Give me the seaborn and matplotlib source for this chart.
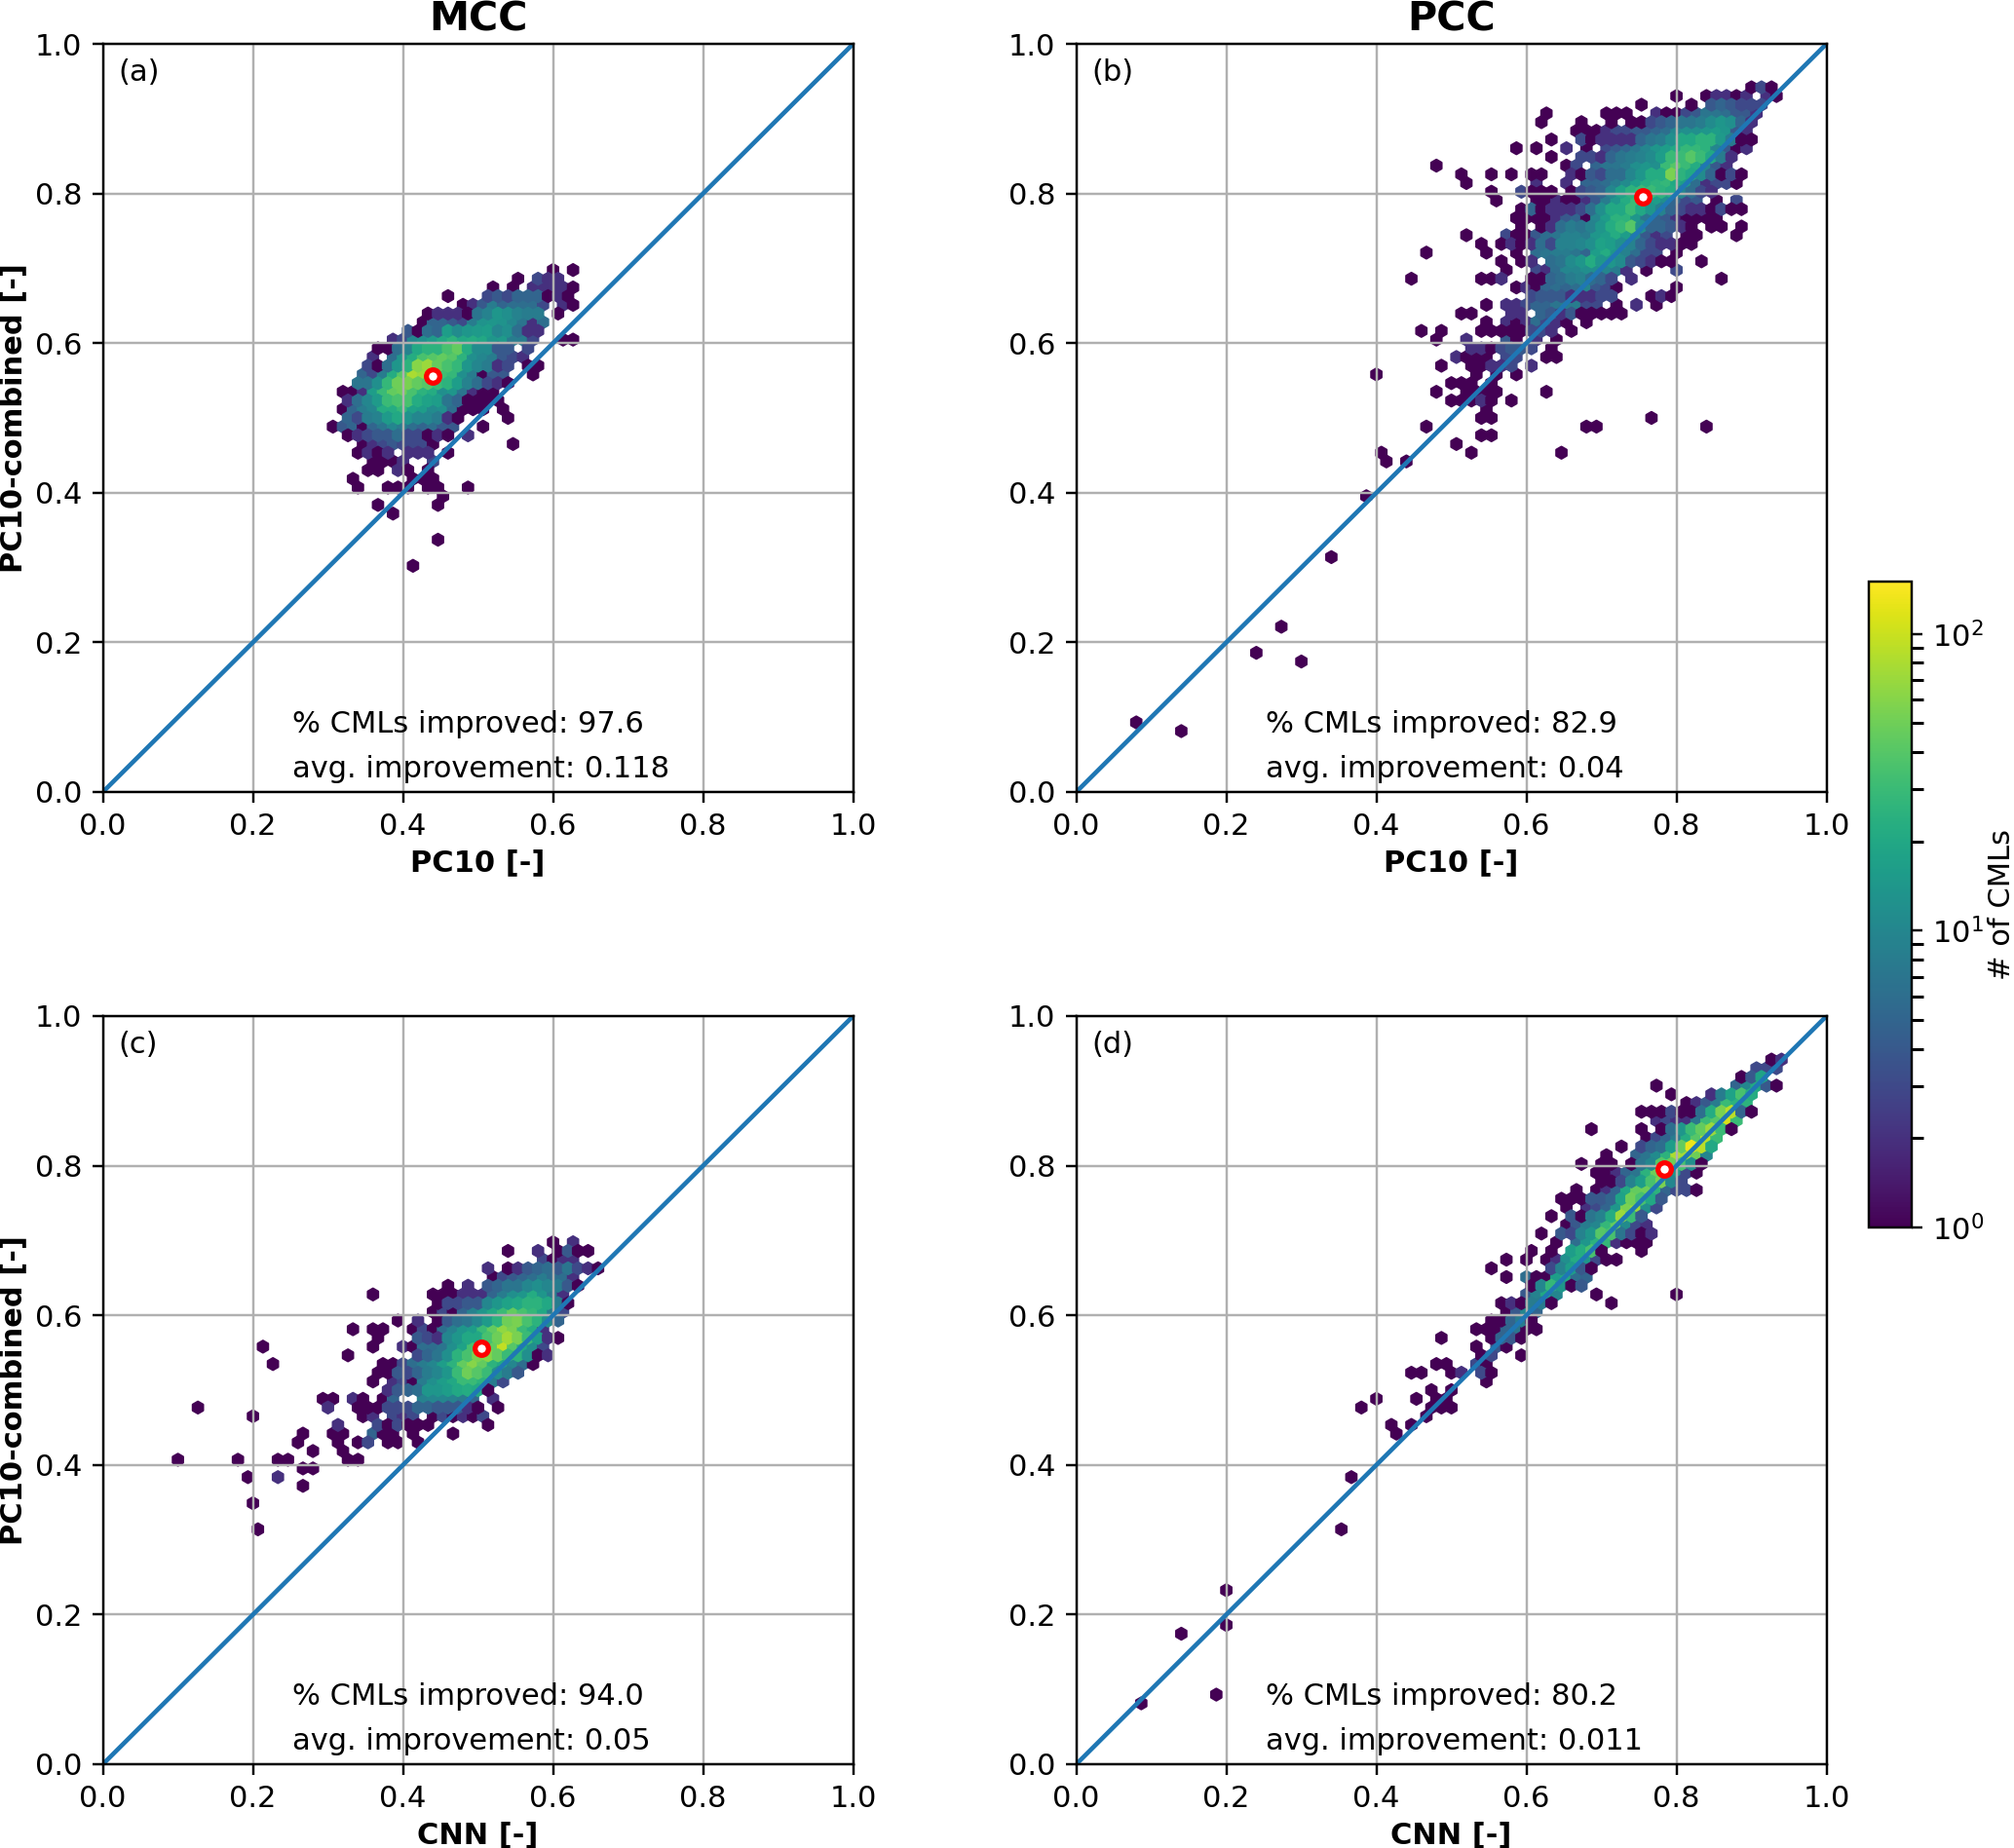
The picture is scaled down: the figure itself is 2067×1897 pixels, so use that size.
import numpy as np
import matplotlib
matplotlib.use('Agg')
import matplotlib.pyplot as plt
from matplotlib.colors import LogNorm
import seaborn as sns

# hexagon cells: (row, first column, counts), 0 = empty cell
cells_a = [
    (60,45,[1,0,1]), (59,41,[1,0,3,2,2]), (58,39,[1,0,1,0,2,2,2,2,1]),
    (57,34,[1]), (57,38,[3,4,3,5,5,5,1,2,1]), (56,36,[1,2,4,8,5,6,6,6,3,0,2,1]),
    (55,32,[1,2,2,2,1,7,9,14,12,9,8,8,0,1]), (54,32,[1,5,5,4,3,8,13,14,13,10,7,2,6]),
    (53,30,[4,1,6,5,16,11,14,15,16,10,12,6,2,2]),
    (52,29,[2,3,10,12,15,20,25,20,22,20,14,15,8,8,3]), (52,46,[1,1]),
    (51,27,[1,1,6,9,20,25,25,35,45,22,11,11,4,4,0,3]),
    (50,27,[2,0,6,14,22,35,40,45,40,25,12,10,8,4,3,2]),
    (49,26,[3,1,6,14,25,60,70,45,35,28,14,10,8,2,3,0,1,1]),
    (48,26,[5,3,8,22,40,80,70,50,32,28,12,8,1,4,4,0,0,1]),
    (47,25,[7,7,12,28,50,55,45,40,30,25,16,9,6,3,2,1]),
    (46,24,[1,1,2,16,30,45,50,35,25,22,12,14,7,2,1,1]),
    (45,24,[2,6,10,15,30,35,35,22,18,16,7,5,1,1,1,1]),
    (44,24,[1,5,8,10,22,22,28,18,16,11,12,6,1,1,1,0,1]),
    (43,24,[5,3,8,9,15,20,13,10,10,8,2,1]), (43,40,[1]),
    (42,23,[1,4,5,1,5,7,10,8,6,5,6,4,4]), (42,38,[1]),
    (41,24,[1,2,3,4,4,6,3,3,1,2,1,0,2]), (40,26,[1,2,3,4,3,3,3,1]), (40,41,[1]),
    (39,25,[1,2,1,2,0,2,2,2,0,1]), (38,27,[1,1,1,2,0,0,3]), (37,26,[1,1,0,2,1,0,1]),
    (36,25,[1]), (36,31,[1,1,1]), (35,25,[1]), (35,28,[1,1,1,0,1,1]), (35,36,[1]),
    (34,34,[1]), (33,27,[1]), (33,33,[1]), (32,29,[1]), (29,33,[1]), (26,31,[1]),
]

cells_b = [
    (81,67,[1,3,1]), (80,60,[1]), (80,63,[1,2,2,1,2,0,2,1]), (79,56,[1]), (79,61,[1]),
    (79,63,[4,5,4,3,3,3]), (78,47,[1]), (78,53,[1,1,1]), (78,58,[2,1,1,3,4,7,7,6,4,4,2]),
    (77,46,[1]), (77,50,[1]), (77,53,[1,0,1,1,3,4,5,7,7,8,11,14,12,5,2]),
    (76,50,[1,1,1,2,3,3,4,4,5,6,10,12,12,14,16,14,4,2]),
    (75,47,[1]), (75,50,[3,1,2,2,2,2,5,7,8,12,20,20,25,25,15,8,1,1]),
    (74,44,[1,0,1]), (74,49,[2,0,1,0,3,4,5,7,10,14,16,20,28,28,25,10,4,1,2]),
    (73,47,[1]), (73,50,[3,3,2,5,7,8,9,11,16,30,30,40,30,20,8,2]),
    (72,36,[1]), (72,49,[1,3,0,5,7,7,8,12,14,12,30,40,30,22,10,4,2]),
    (71,38,[1]), (71,41,[1,0,1,0,1,1]), (71,49,[2,1,4,3,6,6,10,14,22,22,55,25,20,11,5,1,3,1]),
    (70,39,[1]), (70,46,[2,0,0,2,0,5,5,6,8,11,16,22,25,28,20,16,6,2,3,3,1]),
    (69,41,[1]), (69,44,[3,1,1,1,0,1,3,4,5,10,18,25,30,30,25,22,10,6,3,2]),
    (68,42,[1]), (68,46,[1,1,2,1,1,2,4,8,14,22,30,22,16,12,5,3,4,0,1,0,3]),
    (67,44,[1,5,1,2,2,2,3,6,12,20,20,30,20,14,9,5,3,2,2,1,3,1,1]),
    (66,44,[1,1,1,1,2,4,5,1,10,16,25,25,14,7,5,4,2,1,1,1,1]),
    (65,44,[1,0,1,2,6,8,7,9,14,22,28,40,12,5,5,4,2,1,0,1,1,0,1]),
    (64,39,[1]), (64,43,[3,1,1,4,6,7,9,9,8,14,16,22,16,10,4,2,3,0,1,1]), (64,66,[1]),
    (63,40,[1]), (63,42,[1,2,1,2,6,3,9,9,10,12,18,16,12,9,5,3,2,2,1,1]),
    (62,35,[1]), (62,41,[1]), (62,44,[1,0,6,7,8,8,7,5,16,22,14,9,6,3,3,0,1]),
    (61,42,[1,0,1,2,0,6,7,11,14,22,14,14,11,4,3,2,1,1]), (61,62,[1]),
    (60,43,[1,0,0,3,2,6,10,10,12,12,10,8,2,0,1]), (60,60,[3]),
    (59,33,[1]), (59,40,[1,1,2,0,0,1,1,5,6,8,9,6,5,3,0,2]), (59,64,[1]),
    (58,44,[1,2,1,5,6,5,6,10,4,3,1]), (58,60,[1]),
    (57,45,[3,4,4,4,2,2,2,3,3]), (57,57,[1,2,1]),
    (56,41,[1,0,2,2,3,5,5,7,8,8,3,3,0,1]), (56,56,[2,0,1]),
    (55,38,[1,1]), (55,43,[2,2,0,5,4,2,4,1,1,1,1,1]),
    (54,41,[1,0,2,1,2,6,3,2,1,0,1]),
    (53,34,[1,0,1]), (53,40,[1,1,1,1,1,3,3,2,0,1]),
    (52,36,[1,0,0,2]), (52,43,[4,1,0,2,0,1]),
    (51,39,[2,2,1,3,4,4,3,0,1]), (50,38,[2,1,1,1,0,3,3]), (50,47,[1,1]),
    (49,36,[1]), (49,39,[1,1,2,2,3,0,2]), (48,30,[1]), (48,40,[1,0,1,0,1]),
    (47,37,[1,1,1,0,1]), (46,36,[1]), (46,39,[1,1,1,1]), (46,47,[1]),
    (45,37,[1,1,1,2,1,0,1]), (44,41,[1]), (43,40,[1,1]), (43,57,[1]),
    (42,35,[1]), (42,51,[1,1]), (42,63,[1]), (41,40,[1,1]), (40,38,[1]),
    (39,30,[1]), (39,39,[1]), (39,48,[1]), (38,31,[1,0,1]), (34,29,[1]),
    (27,25,[1]), (19,20,[1]), (16,18,[1]), (15,22,[1]), (8,6,[1]), (7,10,[1]),
]

cells_c = [
    (60,45,[1,0,2]), (59,40,[1]), (59,43,[2,0,1,4,1,1]), (58,44,[3,1,2,2]),
    (57,38,[2,0,1,2,4,5,6,4,7,3,2,1]), (56,39,[1,3,4,5,6,8,6,6,2]),
    (55,34,[1,0,2,0,4,5,7,7,10,12,10,8,4,1]),
    (54,27,[1]), (54,33,[1,1,1,2,2,2,5,8,12,14,22,14,8,2]),
    (53,33,[1,3,3,4,4,10,14,18,20,25,25,20,8,1]),
    (52,33,[1,3,1,5,9,14,20,30,45,35,28,20,8,3]),
    (51,29,[1,0,2,0,1,4,6,7,10,15,25,50,55,35,25,12,5]),
    (50,25,[1,0,1,1,0,0,1,3,1,6,9,14,16,30,45,65,55,30,22,2]),
    (49,27,[1,0,0,0,4,3,2,10,14,20,20,35,50,75,55,30,16,2,1]),
    (48,16,[1]), (48,27,[1,0,0,2,1,6,6,7,12,18,35,40,45,95,40,20,12,3]),
    (47,24,[1]), (47,31,[3,5,7,12,25,35,55,60,45,30,25,12,1,2]),
    (46,17,[1]), (46,28,[1,1,3,6,8,10,16,25,45,60,45,25,20,10,6,1]),
    (45,27,[1,1,4,3,5,8,10,14,30,50,40,30,12,8,4]),
    (44,27,[1,0,2,3,1,8,12,16,20,30,30,25,8,3]),
    (43,28,[2,4,5,6,14,14,16,20,22,20,1]),
    (42,22,[1,1,0,2,1,0,1,5,0,0,9,10,10,9,8,5,0,2]),
    (41,9,[1]), (41,22,[2,0,0,1,1,1,3,3,3,5,5,4,4,4,2,1,0,1]),
    (40,15,[1]), (40,26,[1,2,0,3,2,3,0,1,3,1,2,1,3]),
    (39,23,[2]), (39,27,[3,1,3,1,1,1]), (39,38,[1]),
    (38,20,[1]), (38,23,[1,1,0,0,5,1,1,0,1]), (38,35,[1]),
    (37,19,[1]), (37,23,[1,0,1,3,0,1,1,0,1]), (36,21,[1]), (36,24,[1]),
    (35,7,[1]), (35,13,[1]), (35,17,[1,1]), (35,24,[1,1]), (34,20,[1,1]),
    (33,14,[1]), (33,17,[2]), (32,20,[1]), (30,15,[1]), (27,15,[1]),
]

cells_d = [
    (81,69,[1,2]), (80,68,[3,3,3]), (79,66,[1,4,18]), (78,58,[1]), (78,66,[5,10,20,4,1]),
    (77,59,[1]), (77,63,[2,8,18,35,22]), (76,61,[1,2,4,8,30,25,25]),
    (75,56,[1,1,1,3,1,1,6,22,55,90,5,1]), (74,58,[2,3,2,2,7,30,40,110,30]),
    (73,51,[1]), (73,56,[1,0,1,6,14,30,45,70,30,1]), (72,57,[1,3,5,8,22,40,90,30]),
    (71,54,[1,0,3,5,6,16,45,130,90,20]), (70,53,[1]), (70,56,[5,7,11,25,80,75,50,10]),
    (69,50,[1,0,1,1,0,1,7,10,40,50,35,12,1]), (68,52,[1,1,2,5,7,25,50,65,14,3,1]),
    (67,52,[1,1,3,9,16,35,55,10,3]), (66,50,[1,0,1,2,5,20,45,50,25,5,3,3,1]),
    (65,48,[1,1,1,4,4,5,18,50,35,20,4]), (64,49,[1,0,2,3,5,14,55,70,12,3]),
    (63,47,[1,0,4,1,7,9,22,70,30,4]), (62,49,[1,4,8,10,28,45,11,3,2]),
    (61,46,[1,0,4,3,9,14,40,35,7,3,1,2]), (60,48,[1,0,6,14,25,28,2,1,1,1]),
    (59,45,[1,0,1,0,16,22,35,1]), (59,56,[1]), (58,43,[1,0,1,0,1,2,12,22,14,3,1,1]),
    (57,41,[1]), (57,47,[3,9,16,4,1]), (56,43,[1,0,6,1,1,16,20,6,5]),
    (55,45,[1,10,28,14,1,4]), (54,45,[4,9,20,10]), (54,52,[1]), (54,60,[1]),
    (53,42,[1,2,1,8,8,1]), (53,53,[1]), (52,43,[1,4,10,5]), (51,41,[1,1,5,8,1]),
    (50,40,[1,1,1,5,7,1,1]), (49,36,[1]), (49,41,[1,5,4,1]), (48,40,[1,0,4,1]),
    (47,40,[1,3,0,0,1]), (46,36,[1,1]), (46,40,[3,1]), (45,33,[1,1]), (45,37,[1,2,0,3,1]),
    (44,41,[1]), (43,35,[1,0,1]), (42,30,[1]), (42,34,[1,0,1,1]), (41,28,[1]), (41,35,[1,1,1]),
    (40,35,[1]), (39,31,[1]), (39,33,[1]), (38,32,[1]), (33,27,[1]), (27,26,[1]),
    (20,15,[1]), (16,15,[1]), (15,10,[1]), (8,14,[1]), (7,6,[1]),
]

panel_cells = [cells_a, cells_b, cells_c, cells_d]
panel_tags = ['(a)', '(b)', '(c)', '(d)']
col_titles = ['MCC', 'PCC']
x_labels = ['PC10 [-]', 'PC10 [-]', 'CNN [-]', 'CNN [-]']
y_label = 'PC10-combined [-]'
mean_x = [0.44, 0.755, 0.505, 0.783]
mean_y = [0.556, 0.795, 0.556, 0.795]
pct_improved = ['97.6', '82.9', '94.0', '80.2']
avg_improved = ['0.118', '0.04', '0.05', '0.011']

GRIDSIZE = 75
CW = 1.0 / GRIDSIZE
RH = 0.5 / int(GRIDSIZE / np.sqrt(3))


def cells_to_xyc(cells):
    # turn the (row, col, counts) runs into bin centres and counts
    xs, ys, cs = [], [], []
    for row, col, counts in cells:
        for k, n in enumerate(counts):
            if n > 0:
                xs.append((col + k + 0.5 * (row % 2)) * CW)
                ys.append(row * RH)
                cs.append(n)
    return xs, ys, cs


sns.set_theme(style='ticks', rc={
    'axes.edgecolor': 'black', 'axes.labelcolor': 'black', 'text.color': 'black',
    'xtick.color': 'black', 'ytick.color': 'black', 'axes.grid': True,
    'grid.color': '#b0b0b0', 'grid.linewidth': 0.8, 'axes.axisbelow': 'line',
    'font.family': 'DejaVu Sans', 'axes.linewidth': 0.8,
    'xtick.major.width': 0.8, 'ytick.major.width': 0.8,
    'xtick.major.size': 3.5, 'ytick.major.size': 3.5,
})

W, H = 2067, 1897
DPI = 220
fig, axes = plt.subplots(2, 2, figsize=(W / DPI, H / DPI), dpi=DPI)
lefts = [105.6, 1104.6]
bottoms = [813, 1811]
FS = 10

norm = LogNorm(vmin=1, vmax=150)
for i, ax in enumerate(axes.flat):
    ax.set_position([lefts[i % 2] / W, 1 - bottoms[i // 2] / H, 770 / W, 768 / H])
    xs, ys, cs = cells_to_xyc(panel_cells[i])
    hb = ax.hexbin(xs, ys, C=cs, reduce_C_function=np.sum, gridsize=GRIDSIZE,
                   extent=(0, 1, 0, 1), cmap='viridis', norm=norm,
                   linewidths=0.8, edgecolors='face')
    sns.lineplot(x=[0, 1], y=[0, 1], color='#1f77b4', lw=1.5, ax=ax)
    sns.scatterplot(x=[mean_x[i]], y=[mean_y[i]], s=20, color='white', edgecolor='red',
                    linewidth=1.7, ax=ax, zorder=5)
    ax.set_xlim(0, 1)
    ax.set_ylim(0, 1)
    ax.tick_params(labelsize=FS, pad=3.5)
    ax.set_xlabel(x_labels[i], fontweight='bold', fontsize=FS, labelpad=2.5)
    if i % 2 == 0:
        ax.set_ylabel(y_label, fontweight='bold', fontsize=FS, labelpad=2.5)
    if i < 2:
        ax.set_title(col_titles[i], fontweight='bold', fontsize=13.5, pad=4.5)
    ax.text(0.02, 0.962, panel_tags[i], transform=ax.transAxes, fontsize=FS, va='center')
    ax.text(0.252, 0.091, '% CMLs improved: ' + pct_improved[i], fontsize=FS, va='center')
    ax.text(0.252, 0.031, 'avg. improvement: ' + avg_improved[i], fontsize=FS, va='center')

cax = fig.add_axes([1918 / W, 1 - 1260 / H, 44 / W, 663 / H])
cb = fig.colorbar(hb, cax=cax)
cb.ax.tick_params(labelsize=FS)
cb.ax.grid(False)
cb.set_label('# of CMLs', fontsize=FS, labelpad=1)

fig.savefig('out.png', dpi=DPI)
